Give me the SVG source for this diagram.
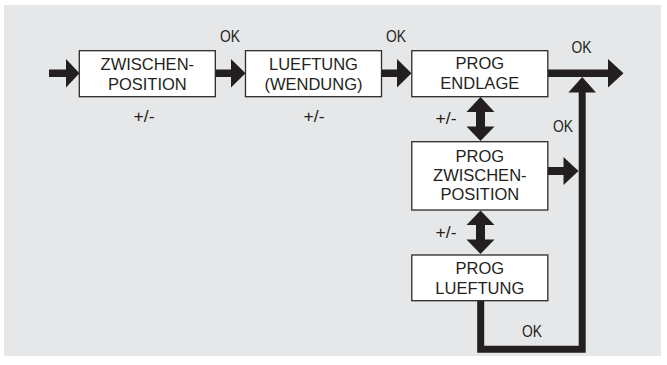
<svg xmlns="http://www.w3.org/2000/svg" width="667" height="365" viewBox="0 0 667 365">
<style>
.box{fill:#ffffff;stroke:#2b2b2b;stroke-width:1.3}
.t{font-family:"Liberation Sans",Arial,sans-serif;font-size:16.5px;fill:#231f20;text-anchor:middle}
.lbl{font-family:"Liberation Sans",Arial,sans-serif;font-size:16px;fill:#231f20;text-anchor:middle}
.a{fill:#231f20}
.ln{fill:none;stroke:#231f20;stroke-width:7;stroke-linejoin:miter}
</style>
<rect x="0" y="0" width="667" height="365" fill="#ffffff"/>
<rect x="4" y="5" width="657" height="351" fill="#e6e7e8"/>
<g id="connectors">
<rect class="a" x="49" y="69.5" width="18" height="7.5"/>
<polygon class="a" points="66,59 79.5,73.3 66,87.5"/>
<rect class="a" x="215" y="69.5" width="17" height="7.5"/>
<polygon class="a" points="231,59 245.5,73.3 231,87.5"/>
<rect class="a" x="381.5" y="69.5" width="16.5" height="7.5"/>
<polygon class="a" points="397,59 411.5,73.3 397,87.5"/>
<rect class="a" x="548" y="69.5" width="61" height="7.5"/>
<polygon class="a" points="608,59 623.5,73.3 608,87.5"/>
<polygon class="a" points="582.2,77 596,92.5 568.4,92.5"/>
<path class="ln" d="M480.7,300.7 V349.3 H582.2 V92"/>
<rect class="a" x="548" y="167" width="16.5" height="8"/>
<polygon class="a" points="563.5,157 578.5,171 563.5,185"/>
<polygon class="a" points="480.5,97 494.5,112 466.5,112"/>
<rect class="a" x="476" y="111.5" width="9" height="15.5"/>
<polygon class="a" points="466.5,126.5 494.5,126.5 480.5,141"/>
<polygon class="a" points="480.5,210.5 494.5,225 466.5,225"/>
<rect class="a" x="476" y="224.5" width="9" height="15.5"/>
<polygon class="a" points="466.5,239.5 494.5,239.5 480.5,254"/>
<text class="lbl" x="230" y="41.7" textLength="20" lengthAdjust="spacingAndGlyphs">OK</text>
<text class="lbl" x="396" y="41.7" textLength="20" lengthAdjust="spacingAndGlyphs">OK</text>
<text class="lbl" x="581.5" y="53.3" textLength="20" lengthAdjust="spacingAndGlyphs">OK</text>
<text class="lbl" x="563" y="132" textLength="20" lengthAdjust="spacingAndGlyphs">OK</text>
<text class="lbl" x="532" y="336.7" textLength="20" lengthAdjust="spacingAndGlyphs">OK</text>
<text class="lbl" x="144" y="121.7" textLength="21" lengthAdjust="spacingAndGlyphs">+/-</text>
<text class="lbl" x="314" y="121.7" textLength="21" lengthAdjust="spacingAndGlyphs">+/-</text>
<text class="lbl" x="446" y="124.3" textLength="21" lengthAdjust="spacingAndGlyphs">+/-</text>
<text class="lbl" x="446" y="237.7" textLength="21" lengthAdjust="spacingAndGlyphs">+/-</text>
</g>
<g id="zwischenposition">
<rect class="box" x="79.3" y="50.7" width="136" height="46"/>
<text class="t" x="147.3" y="69.5">ZWISCHEN-</text>
<text class="t" x="147.3" y="89.5">POSITION</text>
</g>
<g id="lueftung-wendung">
<rect class="box" x="245.5" y="50.7" width="136" height="46"/>
<text class="t" x="313.5" y="69.5">LUEFTUNG</text>
<text class="t" x="313.5" y="89.5">(WENDUNG)</text>
</g>
<g id="prog-endlage">
<rect class="box" x="411.8" y="50.7" width="136" height="46"/>
<text class="t" x="479.8" y="69.3">PROG</text>
<text class="t" x="479.8" y="89.3">ENDLAGE</text>
</g>
<g id="prog-zwischenposition">
<rect class="box" x="411.8" y="141.7" width="136" height="68.3"/>
<text class="t" x="479.8" y="162.3">PROG</text>
<text class="t" x="479.8" y="181">ZWISCHEN-</text>
<text class="t" x="479.8" y="199.7">POSITION</text>
</g>
<g id="prog-lueftung">
<rect class="box" x="411.8" y="255" width="136" height="45.7"/>
<text class="t" x="479.8" y="273.5">PROG</text>
<text class="t" x="479.8" y="293.5">LUEFTUNG</text>
</g>
</svg>
